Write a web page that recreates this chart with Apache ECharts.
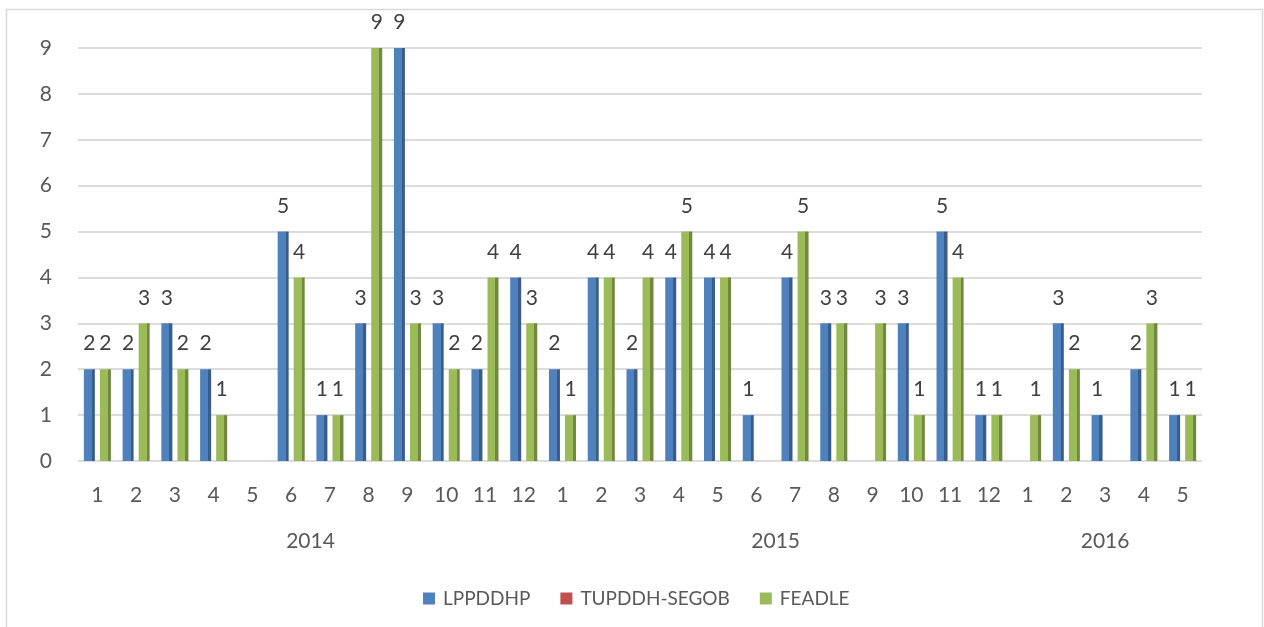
<!DOCTYPE html>
<html>
<head>
<meta charset="utf-8">
<script src="https://cdn.jsdelivr.net/npm/echarts@6/dist/echarts.min.js"></script>
<style>
html,body{margin:0;padding:0;background:#fff;}
#chart{width:1264px;height:627px;}
</style>
</head>
<body>
<div id="chart"></div>
<script>
const years = ['2014', '2015', '2016'];
const monthsPerYear = [12, 12, 5];
const months = ['1','2','3','4','5','6','7','8','9','10','11','12',
                '1','2','3','4','5','6','7','8','9','10','11','12',
                '1','2','3','4','5'];
const seriesNames = ['LPPDDHP', 'TUPDDH-SEGOB', 'FEADLE'];
const lppddhp = [2,2,3,2,null,5,1,3,9,3,2,4,
                 2,4,2,4,4,1,4,3,null,3,5,1,
                 null,3,1,2,1];
const tupddhSegob = [null,null,null,null,null,null,null,null,null,null,null,null,
                     null,null,null,null,null,null,null,null,null,null,null,null,
                     null,null,null,null,null];
const feadle = [2,3,2,1,null,4,1,9,3,2,4,3,
                1,4,4,5,4,null,5,3,3,1,4,1,
                1,2,null,3,1];
const yTicks = [0,1,2,3,4,5,6,7,8,9];

// year label centres in category-index units
const yearCenters = [];
let start = 0;
monthsPerYear.forEach((n, i) => { yearCenters.push({ v: start + (n - 1) / 2, label: years[i] }); start += n; });

const FONT = 'Lato';
const faceColors = ['#4f81bd', '#c0504d', '#9bbb59'];
const sideColors = ['#385d8a', '#8c3836', '#71893f'];
function grad(i) {
  return new echarts.graphic.LinearGradient(0, 0, 1, 0, [
    { offset: 0, color: faceColors[i] },
    { offset: 0.72, color: faceColors[i] },
    { offset: 0.72, color: sideColors[i] },
    { offset: 1, color: sideColors[i] }
  ]);
}

const chart = echarts.init(document.getElementById('chart'), null, { renderer: 'canvas' });
const dataArr = [lppddhp, tupddhSegob, feadle];

const option = {
  animation: false,
  backgroundColor: '#ffffff',
  textStyle: { fontFamily: FONT },
  graphic: [{
    type: 'rect',
    shape: { x: 6.5, y: 9.5, width: 1256, height: 640 },
    style: { fill: 'none', stroke: '#d9d9d9', lineWidth: 1.5 },
    silent: true
  }],
  grid: { left: 78, right: 62, top: 48, bottom: 166, containLabel: false },
  legend: {
    bottom: 14,
    left: 418,
    icon: 'rect',
    itemWidth: 12,
    itemHeight: 12,
    itemGap: 30,
    textStyle: { fontSize: 19, color: '#595959', fontFamily: FONT, padding: [0, 0, 0, 3] },
    data: seriesNames.map((n, i) => ({ name: n, itemStyle: { color: faceColors[i] } }))
  },
  xAxis: [{
    type: 'category',
    data: months,
    axisLine: { show: false },
    axisTick: { show: false },
    axisLabel: { interval: 0, margin: 24, fontSize: 21, color: '#595959', fontFamily: FONT },
    splitLine: { show: false }
  }, {
    type: 'value',
    min: -0.5,
    max: 28.5,
    interval: 0.5,
    position: 'bottom',
    axisLine: { show: false },
    axisTick: { show: false },
    splitLine: { show: false },
    axisLabel: {
      margin: 70,
      fontSize: 21,
      color: '#595959',
      fontFamily: FONT,
      showMinLabel: true,
      showMaxLabel: true,
      formatter: function (v) {
        const f = yearCenters.find(y => Math.abs(y.v - v) < 1e-6);
        return f ? f.label : '';
      }
    }
  }],
  yAxis: {
    type: 'value',
    min: yTicks[0],
    max: yTicks[yTicks.length - 1],
    interval: 1,
    axisLine: { show: false },
    axisTick: { show: false },
    axisLabel: { margin: 26, fontSize: 21, color: '#595959', fontFamily: FONT },
    splitLine: { lineStyle: { color: '#dcdcdc', width: 2 } }
  },
  series: seriesNames.map((n, i) => ({
    name: n,
    type: 'bar',
    xAxisIndex: 0,
    data: dataArr[i],
    barWidth: 11,
    barGap: '-27%',
    barCategoryGap: '30%',
    itemStyle: { color: grad(i) },
    label: {
      show: true,
      position: 'top',
      distance: 15,
      fontSize: 21,
      color: '#404040',
      fontFamily: FONT
    }
  }))
};
chart.setOption(option);
</script>
</body>
</html>
